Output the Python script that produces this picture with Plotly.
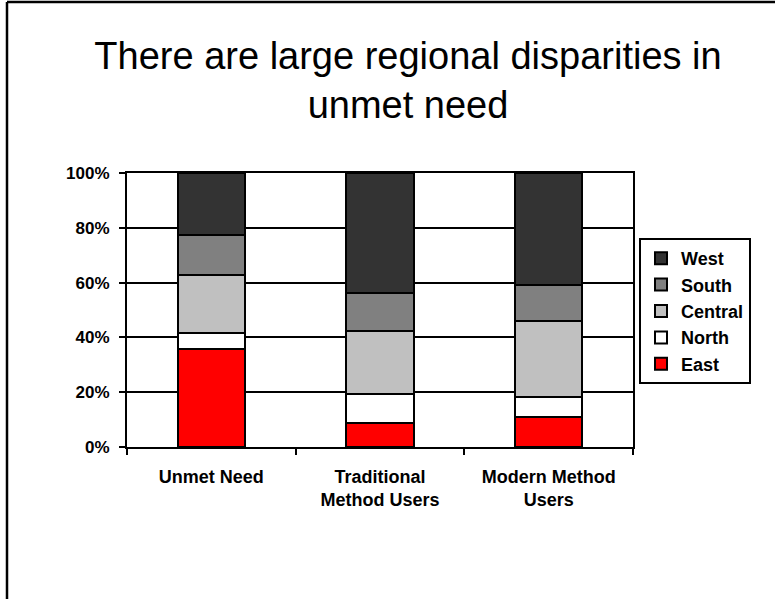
import plotly.graph_objects as go

# Share of women in each group, by region (stacked to 100%)
categories = ["Unmet Need", "Traditional<br>Method Users", "Modern Method<br>Users"]
regions = ["East", "North", "Central", "South", "West"]
east = [0.356, 0.088, 0.110]
north = [0.061, 0.104, 0.073]
central = [0.211, 0.231, 0.277]
south = [0.147, 0.140, 0.132]
west = [0.225, 0.437, 0.408]
series = [east, north, central, south, west]
colors = ["#FF0000", "#FFFFFF", "#C0C0C0", "#808080", "#333333"]

FONT = "Arial, 'Liberation Sans', sans-serif"

fig = go.Figure()
for name, vals, col in zip(regions, series, colors):
    fig.add_trace(go.Bar(
        x=categories, y=vals, name=name,
        marker=dict(color=col, line=dict(color="black", width=2)),
    ))

W, H = 775, 599
L, R, T, B = 127, 142, 173, 152
pw, ph = W - L - R, H - T - B


def px_x(p):
    return (p - L) / pw


def px_y(p):
    return (H - B - p) / ph


fig.update_layout(
    width=W, height=H,
    margin=dict(l=L, r=R, t=T, b=B),
    paper_bgcolor="white", plot_bgcolor="white",
    barmode="stack", bargap=0.6,
    font=dict(family=FONT, color="black"),
    title=dict(
        text="There are large regional disparities in<br>unmet need",
        font=dict(family=FONT, size=38, color="black"),
        x=408 / W, xanchor="center", xref="container",
        y=1 - 69 / H, yanchor="middle", yref="container",
    ),
    legend=dict(
        x=px_x(639), y=px_y(238), xanchor="left", yanchor="top",
        traceorder="reversed",
        bordercolor="black", borderwidth=2, bgcolor="white",
        font=dict(family=FONT, size=18, color="black", weight="bold"),
    ),
    xaxis=dict(
        showline=True, linecolor="black", linewidth=2, mirror=True,
        ticks="outside", tickson="boundaries", ticklen=6, tickwidth=2, tickcolor="black",
        tickfont=dict(family=FONT, size=18, color="black", weight="bold"),
        ticklabelstandoff=12,
        showgrid=False,
    ),
    yaxis=dict(
        range=[0, 1], dtick=0.2, tickformat=".0%",
        showline=True, linecolor="black", linewidth=2, mirror=True,
        ticks="outside", ticklen=6, tickwidth=2, tickcolor="black",
        tickfont=dict(family=FONT, size=17, color="black", weight="bold"),
        ticklabelstandoff=6,
        showgrid=True, gridcolor="black", gridwidth=1.5,
        zeroline=False,
    ),
    shapes=[
        dict(type="line", xref="paper", yref="paper",
             x0=px_x(7), x1=px_x(7), y0=px_y(2), y1=px_y(H + 5),
             line=dict(color="black", width=2.5)),
        dict(type="line", xref="paper", yref="paper",
             x0=px_x(7), x1=px_x(W + 5), y0=px_y(2), y1=px_y(2),
             line=dict(color="black", width=2.5)),
    ],
)

fig.write_html("out.html")
